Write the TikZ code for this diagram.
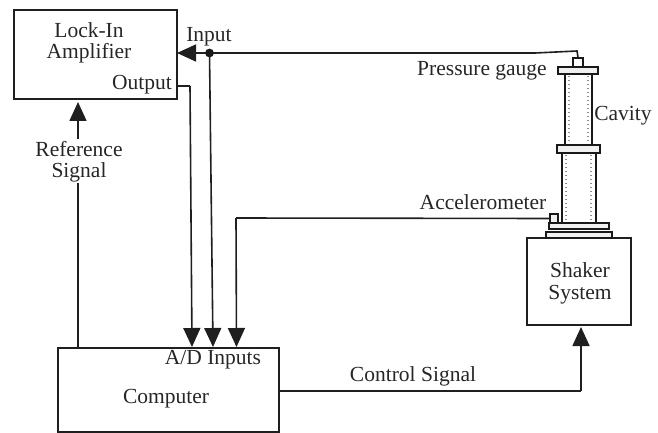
\documentclass[tikz,border=0pt]{standalone}
\usepackage{fontspec}
\setmainfont{Liberation Serif}
\usetikzlibrary{arrows.meta}
\tikzset{
  boxn/.style={draw=black!88,line width=1.8pt,inner sep=0pt},
  lbl/.style={font=\fontsize{21.5}{21.5}\selectfont,text=black!85,inner sep=0pt,align=center},
  wire/.style={draw=black!88,line width=1.6pt},
  arr/.style={wire,-{Triangle[length=19pt,width=17pt]}},
  part/.style={draw=black!90,line width=1.5pt,fill=black!6,inner sep=0pt},
  tubep/.style={draw=black!90,line width=2pt,fill=white,inner sep=0pt},
  stip/.style={draw=black!45,line width=1.2pt,dash pattern=on 1pt off 3pt}
}
\begin{document}
\begin{tikzpicture}[x=1pt,y=-1pt]
\useasboundingbox (0,0) rectangle (658,433);
\node[boxn,minimum width=163pt,minimum height=89pt] (lock) at (95.5,54.5) {};
\node[boxn,minimum width=221pt,minimum height=84pt] (comp) at (168.5,390) {};
\node[boxn,minimum width=104pt,minimum height=87pt] (shaker) at (579,281.5) {};
\node[lbl] (locktxt) at (89,43) {Lock-In\\Amplifier};
\node[lbl] (out) at (142,85) {Output};
\node[lbl] (in) at (209,37) {Input};
\node[lbl] (ref) at (79,162) {Reference\\Signal};
\node[lbl] (ad) at (213,360) {A/D Inputs};
\node[lbl] (comptxt) at (166,399) {Computer};
\node[lbl] (ctrl) at (413,376) {Control Signal};
\node[lbl] (shtxt) at (580,283.5) {Shaker\\System};
\node[lbl] (pg) at (482,71) {Pressure gauge};
\node[lbl] (cav) at (623,116) {Cavity};
\node[lbl] (acc) at (483,202) {Accelerometer};
% cavity
\node[tubep,minimum width=27pt,minimum height=71pt] (tube1) at (578.5,109.5) {};
\node[tubep,minimum width=34pt,minimum height=70pt] (tube2) at (579,188) {};
\draw[stip] (569,76) -- (569,144);
\draw[stip] (588,76) -- (588,144);
\draw[stip] (566,155) -- (566,222);
\draw[stip] (591,155) -- (591,222);
\node[part,fill=white,minimum width=10pt,minimum height=9pt] (gauge) at (578,62.5) {};
\node[part,minimum width=40pt,minimum height=7pt] (fl1) at (578,70.5) {};
\node[part,minimum width=43pt,minimum height=8pt] (fl2) at (578.5,149) {};
\node[part,minimum width=60pt,minimum height=6pt] (fl3) at (579,226) {};
\node[part,minimum width=66pt,minimum height=6pt] (fl4) at (579,235) {};
\node[part,minimum width=8pt,minimum height=9pt] (accb) at (554,218.5) {};
% connectors
\coordinate (j) at (209.5,53);
\coordinate (gtop) at (577,51);
\coordinate (gbend) at (535,53);
\coordinate (ltip) at (177,53);
\coordinate (odn) at (190,86);
\coordinate (oin) at (192,347);
\coordinate (iin) at (213,347);
\coordinate (ain) at (236.5,347);
\coordinate (abend) at (236,218);
\coordinate (rtop) at (78,183);
\coordinate (rbot) at (78,139);
\coordinate (rtip) at (78,102);
\coordinate (ctip) at (581,327);
\coordinate (cbend) at (581,391);
\draw[wire] (gauge.north) -- (gtop) -- (gbend) -- (j);
\draw[arr] (j) -- (ltip);
\fill[black!90] (j) circle (4.4pt);
\draw[wire] (lock.east |- odn) -- (odn);
\draw[arr] (odn) -- (oin);
\draw[arr] (j) -- (iin);
\draw[wire] (accb.west) -- (abend);
\draw[arr] (abend) -- (ain);
\draw[wire] (comp.north -| rtop) -- (rtop);
\draw[arr] (rbot) -- (rtip);
\draw[wire] (comp.east |- cbend) -- (cbend);
\draw[arr] (cbend) -- (ctip);
\end{tikzpicture}
\end{document}
